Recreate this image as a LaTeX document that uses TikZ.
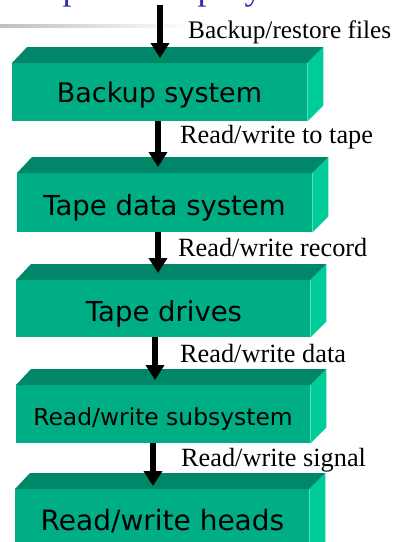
\documentclass[tikz,border=0pt]{standalone}
\usepackage{fontspec}
\setmainfont{Liberation Serif}
\newfontfamily\boxfont{DejaVu Sans}
\usetikzlibrary{arrows.meta,calc}
\definecolor{frontc}{RGB}{0,174,134}
\definecolor{topc}{RGB}{0,134,104}
\definecolor{sidec}{RGB}{0,204,153}
\definecolor{titlec}{RGB}{45,45,175}
\tikzset{
  frontface/.style={fill=frontc,draw=none,inner sep=0pt,anchor=north west},
  boxtext/.style={font=\boxfont\fontsize{27.5}{30}\selectfont,anchor=base,inner sep=0pt},
  lbl/.style={font=\fontsize{26.3}{28}\selectfont,anchor=base west,inner sep=0pt},
  arr/.style={line width=6.5pt,-{Triangle[width=18pt,length=15pt]}},
}
\newcommand{\cubefaces}[1]{%
  \fill[topc] (#1.north west) -- ($(#1.north west)+(15,-16)$) -- ($(#1.north east)+(16,-16)$) -- (#1.north east) -- cycle;
  \fill[sidec] (#1.north east) -- ($(#1.north east)+(16,-16)$) -- ($(#1.south east)+(16,-16)$) -- (#1.south east) -- cycle;
}
\begin{document}
\begin{tikzpicture}[x=1pt,y=-1pt]
\useasboundingbox (0,0) rectangle (404,542);
\clip (0,0) rectangle (404,542);
% title remnant and rule
\node[font=\fontsize{36}{40}\selectfont,text=titlec,anchor=base west,inner sep=0pt] (title) at (27,-0.5) {Tape Backup System};
\shade[left color=black!25,right color=white] (0,24) rectangle (190,27.5);
% boxes
\node[frontface,minimum width=295pt,minimum height=58pt] (b1) at (12,63) {};
\node[frontface,minimum width=295pt,minimum height=59pt] (b2) at (17,173) {};
\node[frontface,minimum width=294pt,minimum height=57pt] (b3) at (16,280) {};
\node[frontface,minimum width=294pt,minimum height=58pt] (b4) at (16,385) {};
\node[frontface,minimum width=294pt,minimum height=70pt] (b5) at (15,489) {};
\cubefaces{b1}
\cubefaces{b2}
\cubefaces{b3}
\cubefaces{b4}
\cubefaces{b5}
% box texts
\node[boxtext,font=\boxfont\fontsize{27}{30}\selectfont] (t1) at (159.5,102) {Backup system};
\node[boxtext] (t2) at (164.5,215.5) {Tape data system};
\node[boxtext] (t3) at (164,321.5) {Tape drives};
\node[boxtext,font=\boxfont\fontsize{23.4}{26}\selectfont] (t4) at (163,425) {Read/write subsystem};
\node[boxtext,font=\boxfont\fontsize{28}{30}\selectfont] (t5) at (162.5,530) {Read/write heads};
% arrows
\coordinate (s1) at (160,5);
\coordinate (e1) at (160,58);
\coordinate (e2) at (158,167);
\coordinate (e3) at (158,273);
\coordinate (e4) at (155,380);
\coordinate (e5) at (153,486);
\draw[arr] (s1) -- (e1);
\draw[arr] (b1.south -| e2) -- (e2);
\draw[arr] (b2.south -| e3) -- (e3);
\draw[arr] (b3.south -| e4) -- (e4);
\draw[arr] (b4.south -| e5) -- (e5);
% labels
\node[lbl,font=\fontsize{25.3}{28}\selectfont] (l1) at (188,38) {Backup/restore files};
\node[lbl] (l2) at (180,143) {Read/write to tape};
\node[lbl] (l3) at (178,256.5) {Read/write record};
\node[lbl] (l4) at (180,362) {Read/write data};
\node[lbl] (l5) at (181,466) {Read/write signal};
\end{tikzpicture}
\end{document}
